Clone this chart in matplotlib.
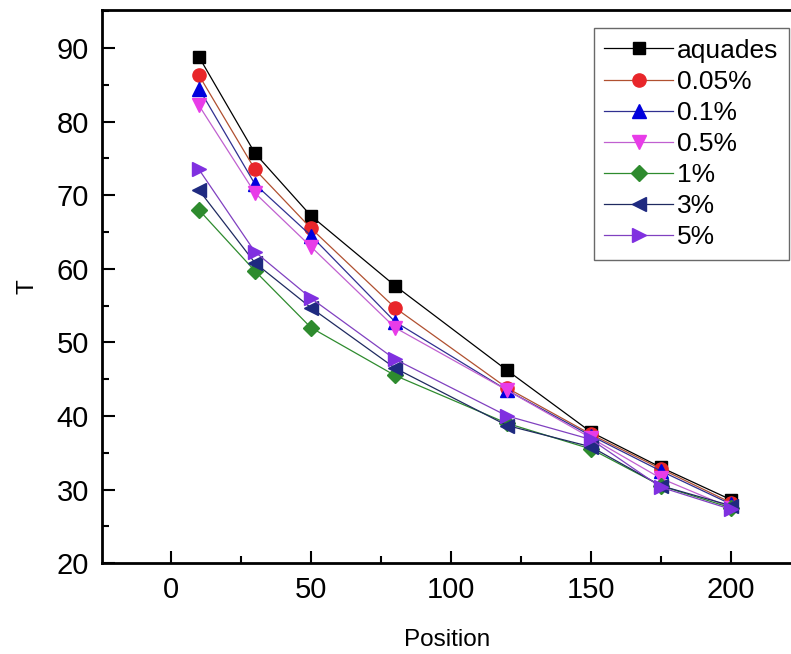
import matplotlib
matplotlib.use("Agg")
import matplotlib.pyplot as plt
from matplotlib.ticker import MultipleLocator

plt.rcParams['font.family'] = ['Liberation Sans', 'DejaVu Sans']

position = [10, 30, 50, 80, 120, 150, 175, 200]

labels = ["aquades", "0.05%", "0.1%", "0.5%", "1%", "3%", "5%"]
t_aquades = [88.8, 75.7, 67.2, 57.7, 46.2, 37.8, 33.0, 28.6]
t_005 = [86.3, 73.5, 65.5, 54.7, 43.8, 37.5, 32.8, 28.2]
t_01 = [84.5, 71.5, 64.5, 52.8, 43.5, 37.3, 32.5, 28.0]
t_05 = [82.2, 70.3, 63.0, 52.0, 43.5, 37.0, 31.5, 27.5]
t_1 = [68.0, 59.7, 52.0, 45.5, 39.0, 35.5, 30.5, 27.5]
t_3 = [70.7, 60.8, 54.7, 46.5, 38.7, 35.8, 30.5, 27.8]
t_5 = [73.5, 62.3, 56.0, 47.7, 40.0, 36.8, 30.3, 27.3]

series = [t_aquades, t_005, t_01, t_05, t_1, t_3, t_5]
markers = ["s", "o", "^", "v", "D", "<", ">"]
colors = ["#000000", "#e8262a", "#0000dd", "#e83ce8", "#2e8b2e", "#1f2a80", "#8030e0"]
line_colors = ["#000000", "#b05030", "#303090", "#c060d0", "#2e8b2e", "#1f2a60", "#8040c0"]
msizes = [8.5, 9.5, 9.5, 9.5, 8, 9.5, 9.5]

fig = plt.figure(figsize=(7.91, 6.54), dpi=100)
# right edge of the frame runs just past the image edge, like the original crop
ax = fig.add_axes([0.129, 0.139, 0.8736, 0.846])

for vals, lab, m, c, lc, ms in zip(series, labels, markers, colors, line_colors, msizes):
  ax.plot(position, vals, color=lc, lw=0.9, marker=m, markersize=ms,
          markerfacecolor=c, markeredgecolor=c, label=lab)

ax.set_xlim(-24.6, 222.1)
ax.set_ylim(20, 95.2)
ax.xaxis.set_major_locator(MultipleLocator(50))
ax.xaxis.set_minor_locator(MultipleLocator(25))
ax.yaxis.set_major_locator(MultipleLocator(10))
ax.yaxis.set_minor_locator(MultipleLocator(5))
ax.tick_params(which='both', direction='in', top=False, right=False, width=1.5)
ax.tick_params(which='major', length=9, labelsize=21, pad=9.5)
ax.tick_params(which='minor', length=5)
for s in ax.spines.values():
  s.set_linewidth(2)

ax.set_xlabel("Position", fontsize=17.5, labelpad=18)
ax.set_ylabel("T", fontsize=17.5, labelpad=13)

leg = ax.legend(loc="upper right", bbox_to_anchor=(0.994, 0.967), fontsize=19,
                frameon=True, fancybox=False, borderpad=0.4, labelspacing=0.27,
                handlelength=2.6, handletextpad=0.15, borderaxespad=0)
leg.get_frame().set_edgecolor("#444444")
leg.get_frame().set_linewidth(1.0)

plt.savefig("out.png", dpi=100)
